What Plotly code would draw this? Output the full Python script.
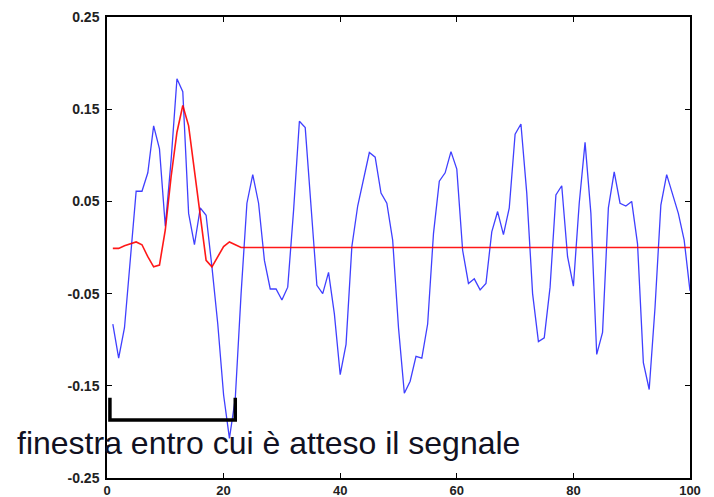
import plotly.graph_objects as go

# Blue signal (samples 1..100)
blue_x = list(range(1, 101))
blue_y = [
    -0.083, -0.120, -0.087, -0.014, 0.061, 0.061, 0.081, 0.132, 0.107, 0.023,
    0.095, 0.183, 0.169, 0.037, 0.003, 0.043, 0.035, -0.021, -0.083, -0.160,
    -0.207, -0.164, -0.050, 0.048, 0.079, 0.048, -0.014, -0.045, -0.045, -0.057,
    -0.043, 0.040, 0.137, 0.130, 0.045, -0.041, -0.050, -0.027, -0.072, -0.138,
    -0.105, 0.001, 0.045, 0.074, 0.103, 0.098, 0.059, 0.048, 0.008, -0.087,
    -0.158, -0.145, -0.118, -0.120, -0.083, 0.015, 0.072, 0.081, 0.104, 0.085,
    -0.003, -0.039, -0.034, -0.046, -0.039, 0.017, 0.039, 0.014, 0.043, 0.123,
    0.134, 0.059, -0.050, -0.102, -0.098, -0.043, 0.057, 0.067, -0.010, -0.042,
    0.048, 0.114, 0.037, -0.116, -0.092, 0.043, 0.082, 0.048, 0.045, 0.050,
    0.004, -0.125, -0.154, -0.065, 0.046, 0.079, 0.057, 0.037, 0.008, -0.047,
]

# Red template (samples 1..100), zero after the window
red_x = list(range(1, 101))
red_y = [
    -0.001, -0.001, 0.002, 0.004, 0.006, 0.003, -0.010, -0.021, -0.019, 0.019,
    0.077, 0.125, 0.154, 0.132, 0.085, 0.034, -0.014, -0.021, -0.010, 0.001,
    0.006, 0.003, 0.000,
] + [0.0] * 77

# Window bracket
bracket_x = [0.5, 0.5, 22, 22]
bracket_y = [-0.163, -0.187, -0.187, -0.163]
window_label = "finestra entro cui è atteso il segnale"

x_ticks = [0, 20, 40, 60, 80, 100]
y_ticks = [-0.25, -0.15, -0.05, 0.05, 0.15, 0.25]
y_tick_text = ["-0.25", "-0.15", "-0.05", "0.05", "0.15", "0.25"]

fig = go.Figure()
fig.add_trace(go.Scatter(x=blue_x, y=blue_y, mode="lines",
                         line=dict(color="#0000ff", width=1.3), opacity=0.75))
fig.add_trace(go.Scatter(x=red_x, y=red_y, mode="lines",
                         line=dict(color="#ff0000", width=1.6), opacity=0.9))
fig.add_trace(go.Scatter(x=bracket_x, y=bracket_y, mode="lines",
                         line=dict(color="black", width=3.5)))

fig.add_annotation(text=window_label, xref="paper", yref="y",
                   x=-0.158, y=-0.212, xanchor="left", yanchor="middle",
                   showarrow=False,
                   font=dict(family="Liberation Sans, Arial", size=32,
                             color="#111122", weight="normal"))

axis_common = dict(showgrid=False, zeroline=False, showline=True, linecolor="black",
                   linewidth=1.5, mirror="ticks", ticks="inside", ticklen=5,
                   tickwidth=1.3, tickcolor="black", automargin=False)

fig.update_xaxes(range=[0, 100], tickvals=x_ticks, ticklabelstandoff=0,
                 tickfont=dict(family="Liberation Sans, Arial", size=13,
                               color="#222", weight="bold"),
                 **axis_common)
fig.update_yaxes(range=[-0.25, 0.25], tickvals=y_ticks, ticktext=y_tick_text,
                 ticklabelstandoff=3,
                 tickfont=dict(family="Liberation Sans, Arial", size=14,
                               color="#222", weight="bold"),
                 **axis_common)

# page body has an 8px default margin; compensate so the plot area lands at
# x 107..690, y 17..478 in the 714x497 window
fig.update_layout(width=706, height=489, showlegend=False,
                  margin=dict(l=99, r=24, t=9, b=19),
                  plot_bgcolor="white", paper_bgcolor="white")

fig.write_html("out.html")
